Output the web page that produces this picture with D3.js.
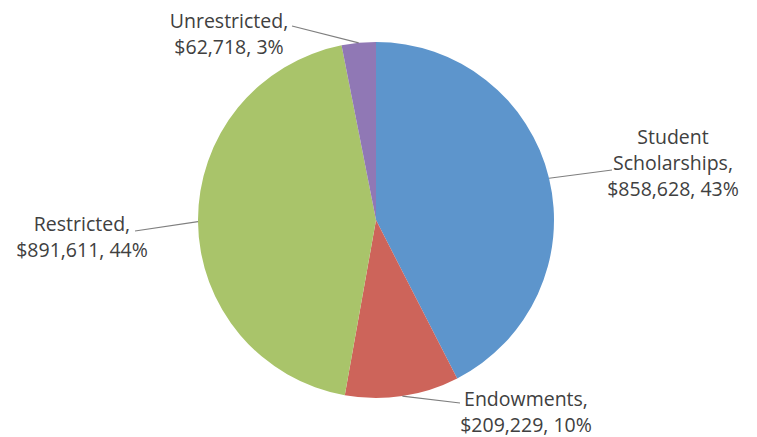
<!DOCTYPE html>
<html>
<head>
<meta charset="utf-8">
<script src="https://cdn.jsdelivr.net/npm/d3@7"></script>
<style>
  body { margin: 0; background: #fff; }
  svg text { font-family: "Open Sans", Lato, sans-serif; fill: #404040; }
</style>
</head>
<body>
<svg id="chart" width="757" height="437"></svg>
<script>
// Chart data
const categories = ['Student Scholarships', 'Endowments', 'Restricted', 'Unrestricted'];
const amounts = [858628, 209229, 891611, 62718];
const percent_labels = ['43%', '10%', '44%', '3%'];
const label_lines = [
    ['Student', 'Scholarships,', '$858,628, 43%'],
    ['Endowments,', '$209,229, 10%'],
    ['Restricted,', '$891,611, 44%'],
    ['Unrestricted,', '$62,718, 3%']
];

// Layout (kept apart from the data)
const colors = ['#5d95cc', '#cd645a', '#a9c46a', '#9078b5'];
const center = [376, 220];
const radius = 178;
// where each leader line ends, and where its text block is centred
const label_layout = [
    { end: [612, 170], text_x: 673, first_baseline: 144, anchor: 'middle' },
    { end: [460, 403], text_x: 526, first_baseline: 406, anchor: 'middle' },
    { end: [135, 231], text_x: 82, first_baseline: 231, anchor: 'middle' },
    { end: [292, 26], text_x: 229, first_baseline: 28, anchor: 'middle' }
];
const line_height = 26;

const svg = d3.select('#chart');
const g = svg.append('g').attr('transform', `translate(${center[0]},${center[1]})`);

const pie = d3.pie().sort(null).value((d) => d.value);
const arc = d3.arc().innerRadius(0).outerRadius(radius);

const slices = pie(categories.map((name, i) => ({ name: name, value: amounts[i], index: i })));

g.selectAll('path.slice')
    .data(slices)
    .join('path')
    .attr('class', 'slice')
    .attr('d', arc)
    .attr('fill', (d) => colors[d.data.index]);

// Leader lines start at the middle of each slice's outer edge
const edge_point = (d) => {
    const a = (d.startAngle + d.endAngle) / 2;
    return [center[0] + radius * Math.sin(a), center[1] - radius * Math.cos(a)];
};

svg.selectAll('polyline.leader')
    .data(slices)
    .join('polyline')
    .attr('class', 'leader')
    .attr('points', (d) => [edge_point(d), label_layout[d.data.index].end].map((p) => p.join(',')).join(' '))
    .attr('fill', 'none')
    .attr('stroke', '#7f7f7f')
    .attr('stroke-width', 1.2);

const labels = svg.selectAll('text.label')
    .data(slices)
    .join('text')
    .attr('class', 'label')
    .attr('font-size', 19.5)
    .attr('text-anchor', (d) => label_layout[d.data.index].anchor);

labels.selectAll('tspan')
    .data((d) => label_lines[d.data.index].map((t, k) => ({ t: t, k: k, layout: label_layout[d.data.index] })))
    .join('tspan')
    .attr('x', (d) => d.layout.text_x)
    .attr('y', (d) => d.layout.first_baseline + d.k * line_height)
    .text((d) => d.t);
</script>
</body>
</html>
